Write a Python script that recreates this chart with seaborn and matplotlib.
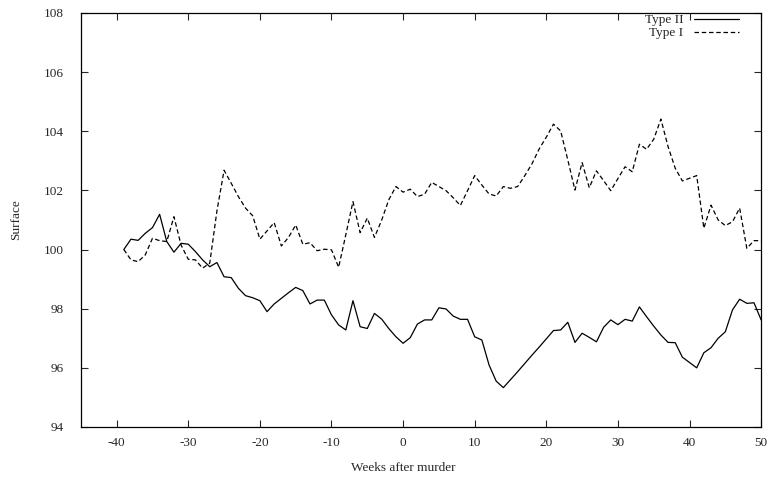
# Import dependencies.
import numpy as np
import pandas as pd
import seaborn as sns
import matplotlib.pyplot as plt

# Weeks relative to the murder.
weeks = list(range(-39, 51))

# Type II series (solid line).
type_ii = [
    100.0, 100.35, 100.31, 100.55, 100.74, 101.19, 100.27, 99.91, 100.21, 100.18,
    99.93, 99.65, 99.42, 99.56, 99.08, 99.05, 98.69, 98.44, 98.37, 98.27,
    97.9, 98.16, 98.35, 98.54, 98.72, 98.61, 98.16, 98.29, 98.29, 97.79,
    97.45, 97.28, 98.27, 97.39, 97.33, 97.84, 97.65, 97.33, 97.05, 96.83,
    97.02, 97.48, 97.62, 97.62, 98.03, 97.99, 97.75, 97.64, 97.64, 97.05,
    96.94, 96.1, 95.55, 95.33, 95.6, 95.87, 96.15, 96.43, 96.7, 96.98,
    97.26, 97.28, 97.54, 96.86, 97.17, 97.03, 96.88, 97.37, 97.62, 97.46,
    97.64, 97.58, 98.06, 97.73, 97.41, 97.11, 96.86, 96.85, 96.36, 96.18,
    96.0, 96.51, 96.68, 97.0, 97.22, 97.96, 98.32, 98.18, 98.2, 97.62,
]

# Type I series (dashed line).
type_i = [
    100.0, 99.65, 99.59, 99.82, 100.38, 100.3, 100.27, 101.11, 100.15, 99.67,
    99.65, 99.37, 99.54, 101.3, 102.68, 102.24, 101.79, 101.4, 101.14, 100.35,
    100.63, 100.91, 100.12, 100.41, 100.83, 100.18, 100.23, 99.96, 100.01, 99.99,
    99.4, 100.5, 101.62, 100.57, 101.06, 100.41, 100.99, 101.68, 102.13, 101.94,
    102.04, 101.79, 101.87, 102.27, 102.13, 101.99, 101.75, 101.49, 101.99, 102.5,
    102.18, 101.88, 101.81, 102.13, 102.07, 102.13, 102.5, 102.9, 103.4, 103.8,
    104.24, 104.01, 103.03, 102.01, 102.94, 102.09, 102.66, 102.33, 101.99, 102.4,
    102.8, 102.63, 103.56, 103.39, 103.73, 104.41, 103.48, 102.75, 102.32, 102.41,
    102.5, 100.72, 101.5, 101.0, 100.81, 100.94, 101.4, 100.04, 100.3, 100.3,
]

x_ticks = list(range(-40, 51, 10))
y_ticks = list(range(94, 109, 2))

df = pd.DataFrame({"week": weeks, "Type II": type_ii, "Type I": type_i})

sns.set_style("ticks")
plt.rcParams["font.family"] = ["Liberation Serif", "DejaVu Serif"]
plt.rcParams["axes.unicode_minus"] = False

fig = plt.figure(figsize=(7.7, 4.79), dpi=100)
ax = fig.add_axes([0.105, 0.1086, 0.8835, 0.8644])

sns.lineplot(data=df, x="week", y="Type II", ax=ax, color="black",
             linewidth=0.9, label="Type II")
sns.lineplot(data=df, x="week", y="Type I", ax=ax, color="black",
             linewidth=0.9, linestyle=(0, (3.6, 2.2)), label="Type I")

ax.set_xlim(-45, 50)
ax.set_ylim(94, 108)
ax.set_xticks(x_ticks)
ax.set_yticks(y_ticks)
ax.tick_params(direction="in", top=True, right=True, length=5, width=0.8,
               labelsize=9.5)
ax.tick_params(axis="x", pad=7)
ax.tick_params(axis="y", pad=12)
for side in ax.spines.values():
    side.set_linewidth(0.9)
    side.set_color("black")

ax.set_xlabel("Weeks after murder", fontsize=9.5, labelpad=6)
ax.xaxis.set_label_coords(0.474, -0.085)
ax.set_ylabel("Surface", fontsize=9.5)
ax.yaxis.set_label_coords(-0.086, 0.5)

ax.legend(loc="upper right", bbox_to_anchor=(0.969, 1.0), frameon=False,
          markerfirst=False, fontsize=9.5, handlelength=3.4, handletextpad=0.8,
          labelspacing=0.05, borderpad=0.1, borderaxespad=0.0)

fig.savefig("out.png", dpi=100)
